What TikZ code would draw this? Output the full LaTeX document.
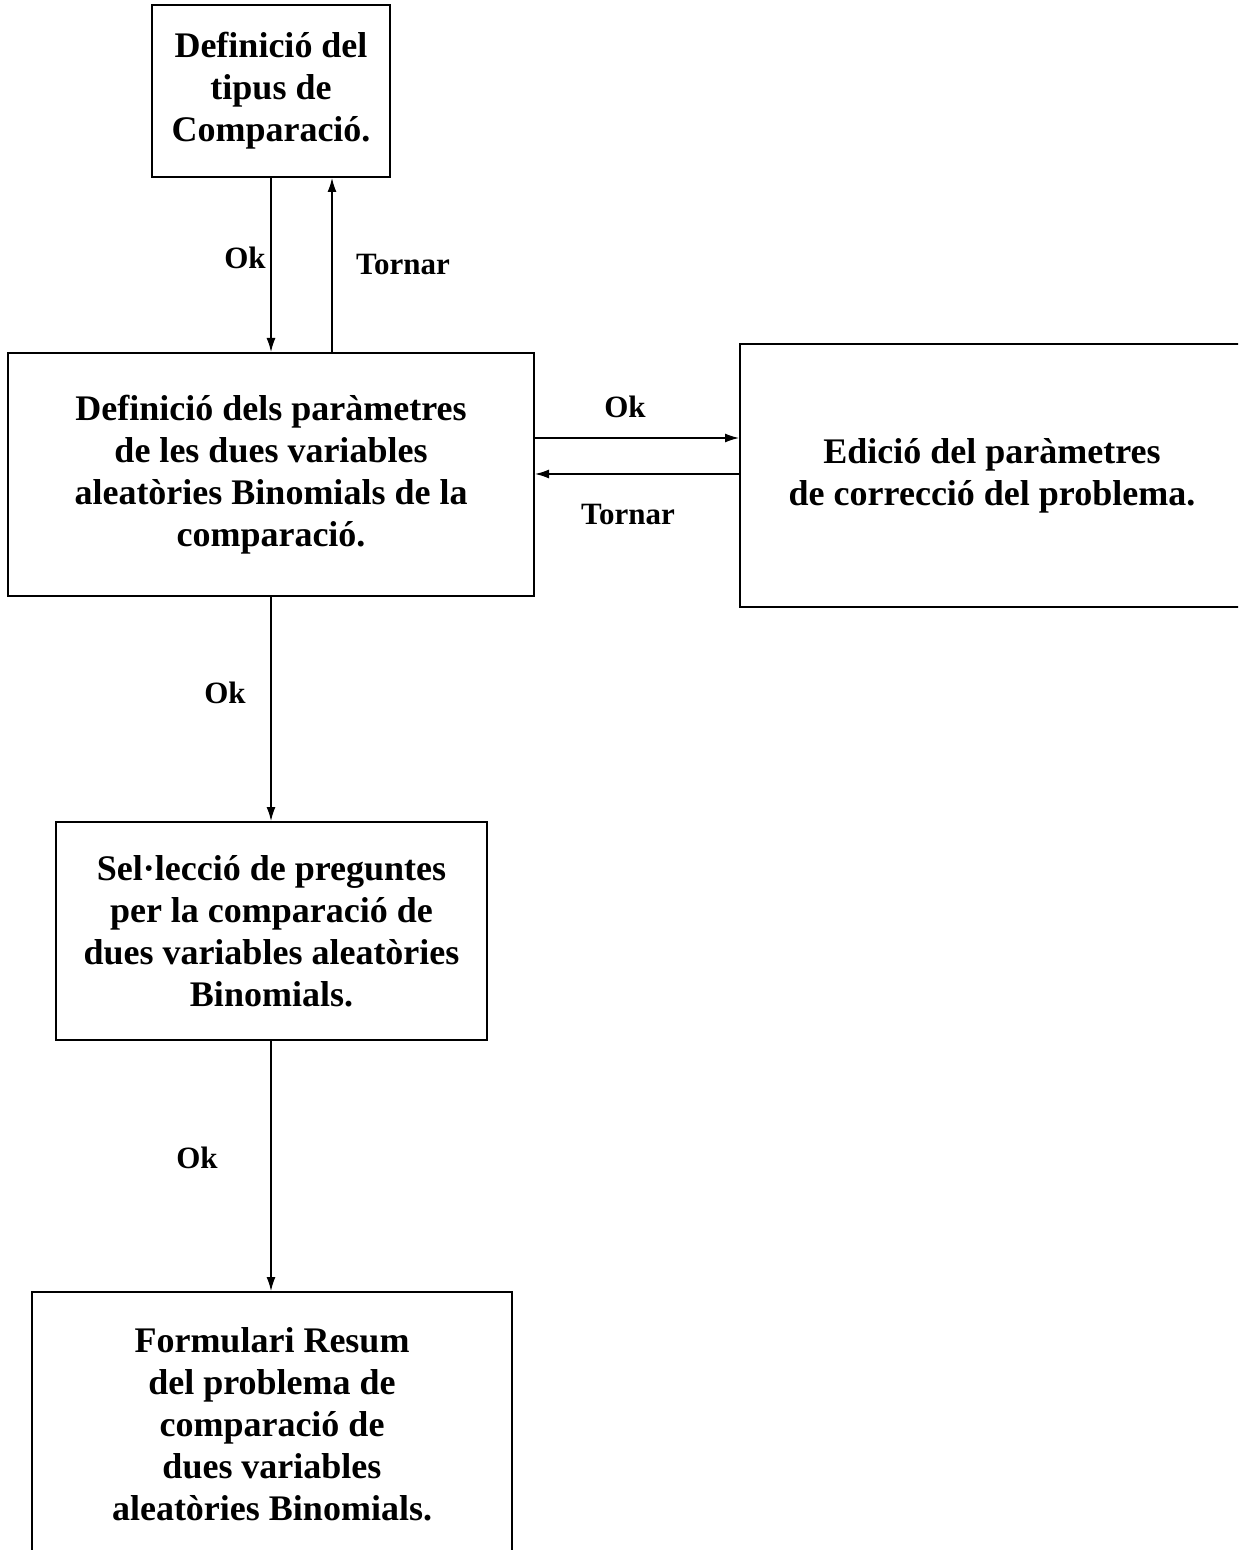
\documentclass[tikz,border=0pt]{standalone}
\usepackage{fontspec}
\setmainfont{Liberation Serif}
\usetikzlibrary{arrows.meta}
\tikzset{
  box/.style={draw, line width=1pt, rectangle, inner sep=0pt, align=center,
    font=\fontsize{18}{21}\selectfont\bfseries},
  flow/.style={line width=0.7pt, -{Latex[length=7pt,width=4.5pt]}},
  lbl/.style={inner sep=0pt, font=\fontsize{15.5}{18}\selectfont\bfseries}
}
\begin{document}
\begin{tikzpicture}[x=0.5pt,y=-0.5pt]
  \useasboundingbox (0,0) rectangle (1238,1550);
  \clip (0,0) rectangle (1238,1550);

  % boxes of the dialogue sequence
  \node[box, minimum width=119pt, minimum height=86pt] (tipus) at (271,91)
    {Definició del\\tipus de\\Comparació.};
  \node[box, minimum width=263pt, minimum height=121.5pt] (param) at (271,474.5)
    {Definició dels paràmetres\\de les dues variables\\aleatòries Binomials de la\\comparació.};
  \node[box, minimum width=252pt, minimum height=131.5pt] (correc) at (992,475.5)
    {Edició del paràmetres\\de correcció del problema.};
  \node[box, minimum width=215.5pt, minimum height=109pt] (selec) at (271.5,931)
    {Sel·lecció de preguntes\\per la comparació de\\dues variables aleatòries\\Binomials.};
  \node[box, minimum width=240pt, minimum height=132pt] (resum) at (272,1424)
    {Formulari Resum\\del problema de\\comparació de\\dues variables\\aleatòries Binomials.};

  % reference columns and rows for the connectors
  \coordinate (cOk) at (271,0);
  \coordinate (cBack) at (332,0);
  \coordinate (rOk) at (0,438);
  \coordinate (rBack) at (0,474);

  % connectors
  \draw[flow] (tipus.south -| cOk) -- (param.north -| cOk);
  \draw[flow] (param.north -| cBack) -- (tipus.south -| cBack);
  \draw[flow] (param.east |- rOk) -- (correc.west |- rOk);
  \draw[flow] (correc.west |- rBack) -- (param.east |- rBack);
  \draw[flow] (param.south -| cOk) -- (selec.north -| cOk);
  \draw[flow] (selec.south -| cOk) -- (resum.north -| cOk);

  % connector labels
  \node[lbl] (l1) at (245,258) {Ok};
  \node[lbl] (l2) at (403,265) {Tornar};
  \node[lbl] (l3) at (625,407) {Ok};
  \node[lbl] (l4) at (628,515) {Tornar};
  \node[lbl] (l5) at (225,693) {Ok};
  \node[lbl] (l6) at (197,1158) {Ok};
\end{tikzpicture}
\end{document}
